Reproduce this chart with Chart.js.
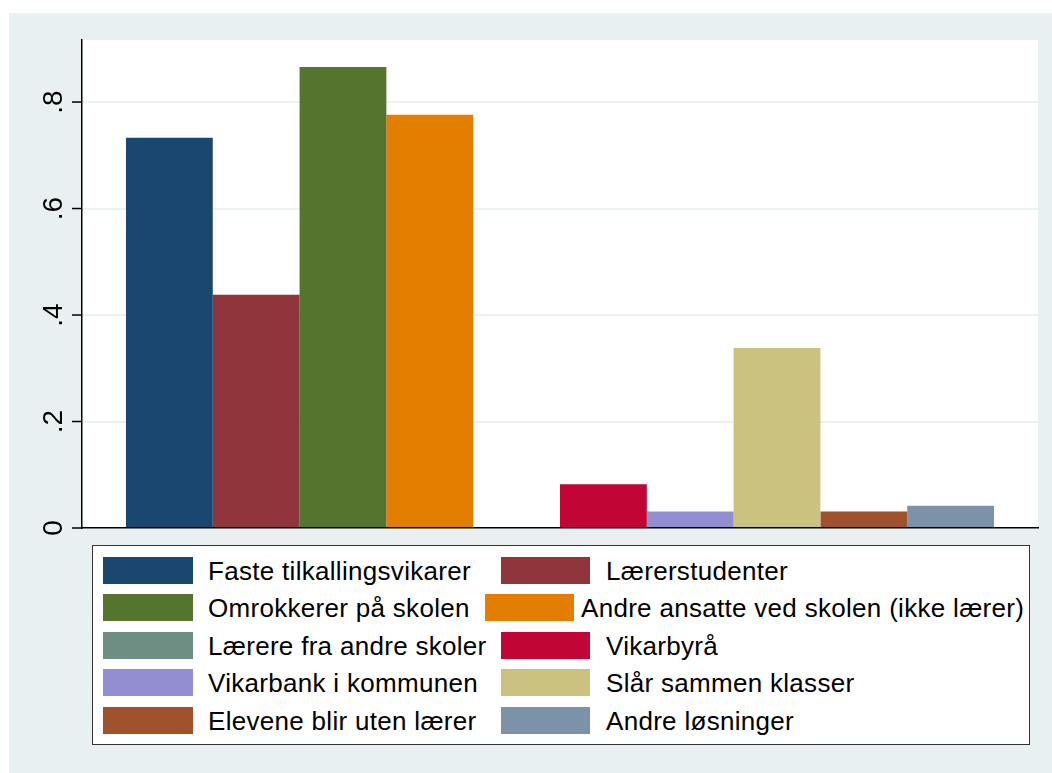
<!DOCTYPE html>
<html>
<head>
<meta charset="utf-8">
<script src="https://cdn.jsdelivr.net/npm/chart.js@4"></script>
<style>
  html, body { margin: 0; padding: 0; background: #fff; }
  #wrap { position: relative; width: 1052px; height: 773px; overflow: hidden; }
  #bg { position: absolute; left: 9px; top: 13px; right: 0; bottom: 0; background: #e8f0f2; }
  #chart { position: absolute; left: 0; top: 0; }
  #legend { position: absolute; left: 92px; top: 545px; width: 936px; height: 198px;
            border: 1.5px solid #333; background: #fff; font-family: "Liberation Sans", Arial, sans-serif; }
  .sw { position: absolute; height: 27px; }
  .lbl { position: absolute; font-size: 26px; letter-spacing: 0.3px; color: #000; line-height: 27px; white-space: nowrap; }
</style>
</head>
<body>
<div id="wrap">
  <div id="bg"></div>
  <canvas id="chart" width="1052" height="773"></canvas>
  <div id="legend"></div>
</div>
<script>
const series = [
  "Faste tilkallingsvikarer", "Lærerstudenter", "Omrokkerer på skolen",
  "Andre ansatte ved skolen (ikke lærer)", "Lærere fra andre skoler", "Vikarbyrå",
  "Vikarbank i kommunen", "Slår sammen klasser", "Elevene blir uten lærer", "Andre løsninger"
];
const means = [0.733, 0.438, 0.866, 0.776, 0, 0.082, 0.031, 0.338, 0.031, 0.042];
const colors = ["#1a476f", "#90353b", "#55752f", "#e37e00", "#6e8e84",
                "#c10534", "#938dd2", "#cac27e", "#a0522d", "#7b92a8"];
const yTicks = [0, 0.2, 0.4, 0.6, 0.8];
const yTickLabels = ["0", ".2", ".4", ".6", ".8"];

// plot region background + rotated y labels (Stata style)
const stataPlugin = {
  id: "stata",
  beforeDraw(chart) {
    const { ctx, chartArea: a } = chart;
    ctx.save();
    ctx.fillStyle = "#fff";
    ctx.fillRect(a.left, a.top, a.right - a.left, a.bottom - a.top);
    ctx.restore();
  },
  afterDraw(chart) {
    const { ctx, chartArea: a } = chart;
    const y = chart.scales.y;
    ctx.save();
    ctx.strokeStyle = "#000";
    ctx.lineWidth = 1.5;
    ctx.fillStyle = "#000";
    ctx.font = "28px 'Liberation Sans', Arial, sans-serif";
    ctx.textAlign = "center";
    ctx.textBaseline = "alphabetic";
    yTicks.forEach((v, i) => {
      const py = y.getPixelForValue(v);
      ctx.beginPath();
      ctx.moveTo(a.left - 10, py);
      ctx.lineTo(a.left, py);
      ctx.stroke();
      ctx.save();
      ctx.translate(62, py);
      ctx.rotate(-Math.PI / 2);
      ctx.fillText(yTickLabels[i], 0, 0);
      ctx.restore();
    });
    ctx.restore();
  }
};

new Chart(document.getElementById("chart"), {
  type: "bar",
  data: {
    labels: [""],
    datasets: series.map((s, i) => ({
      label: s,
      data: [means[i]],
      backgroundColor: colors[i],
      borderWidth: 0
    }))
  },
  options: {
    responsive: false,
    animation: false,
    layout: { padding: { left: 82, top: 40, right: 14, bottom: 245 } },
    datasets: { bar: { barPercentage: 1, categoryPercentage: 0.908 } },
    scales: {
      x: {
        grid: { display: false },
        ticks: { display: false },
        border: { display: true, color: "#000", width: 1.5 },
        afterFit(s) { s.height = 0; }
      },
      y: {
        min: 0,
        max: 0.9165,
        afterBuildTicks(s) { s.ticks = yTicks.map(v => ({ value: v })); },
        ticks: { display: false },
        grid: { color: "#eaf2f3", lineWidth: 2, drawTicks: false },
        border: { display: true, color: "#000", width: 1.5 },
        afterFit(s) { s.width = 0; }
      }
    },
    plugins: { legend: { display: false }, tooltip: { enabled: false } }
  },
  plugins: [stataPlugin]
});

// legend, two columns like Stata
const legend = document.getElementById("legend");
const rowTops = [11, 48, 86, 123, 161];
series.forEach((s, i) => {
  const row = Math.floor(i / 2), col = i % 2;
  let swL = col === 0 ? 10 : 408;
  let swW = col === 0 ? 90 : 89;
  let txL = col === 0 ? 115 : 513;
  if (i === 3) { swL = 392; txL = 488; }
  const sw = document.createElement("div");
  sw.className = "sw";
  sw.style.left = swL + "px";
  sw.style.top = rowTops[row] + "px";
  sw.style.width = swW + "px";
  sw.style.background = colors[i];
  legend.appendChild(sw);
  const t = document.createElement("div");
  t.className = "lbl";
  t.style.left = txL + "px";
  t.style.top = (rowTops[row] + 1) + "px";
  t.textContent = s;
  legend.appendChild(t);
});
</script>
</body>
</html>
